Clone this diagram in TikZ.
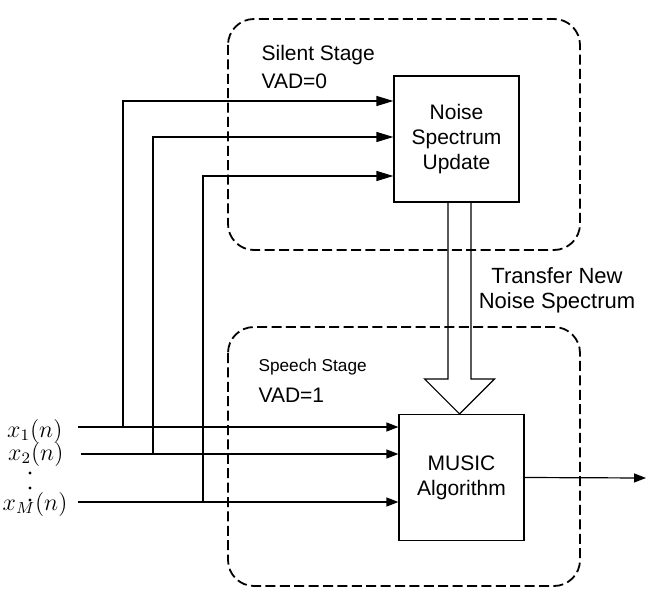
\documentclass[tikz,border=0pt]{standalone}
\usepackage{fontspec}
\setmainfont{Liberation Sans}
\usetikzlibrary{arrows.meta}
\usetikzlibrary{calc}
\usetikzlibrary{positioning}

\begin{document}
\begin{tikzpicture}[x=0.5pt, y=-0.5pt, line width=0.6pt,
    block/.style={rectangle, draw, minimum width=62.5pt, minimum height=63pt, inner sep=0pt, align=center, font=\fontsize{10.5}{12.5}\selectfont},
    stage/.style={draw, dash pattern=on 5pt off 2.2pt, line width=0.9pt, rounded corners=13pt},
    label/.style={anchor=base west, inner sep=0pt, font=\fontsize{10.5}{12.5}\selectfont},
    sig/.style={anchor=base east, inner sep=0pt, font=\fontsize{12}{14}\selectfont},
    big/.style={-{Triangle[length=8.5pt, width=5pt]}},
    small/.style={-{Triangle[length=6pt, width=4.5pt]}}]
    \useasboundingbox (0,0) rectangle (646,588);

    \draw [stage] (228,19) rectangle (580,250);
    \draw [stage] (228,327) rectangle (580,586);

    \node [block] (noise) at (456.5,139) {Noise\\Spectrum\\Update};
    \node [block] (music) at (461.5,477.5) {MUSIC\\Algorithm};

    \node [label] (silent) at (261,61) {Silent Stage};
    \node [label] (vad0) at (261,89) {VAD=0};
    \node [label, font=\fontsize{8.6}{10}\selectfont] (speech) at (258,371) {Speech Stage};
    \node [label] (vad1) at (258,402) {VAD=1};
    \node [align=center, inner sep=0pt, font=\fontsize{11}{12.5}\selectfont] (transfer) at (557,290) {Transfer New\\Noise Spectrum};

    \node [sig] (x1) at (63,437) {$x_1(n)$};
    \node [sig] (x2) at (64,460) {$x_2(n)$};
    \node [sig] (xm) at (68,510) {$x_M(n)$};
    \foreach \y in {473,488,500}
        \fill (30,\y) circle (0.8pt);

    \coordinate (in1) at (78,427);
    \coordinate (in2) at (81,454);
    \coordinate (inm) at (78,502);
    \coordinate (b1) at (123,427);
    \coordinate (b2) at (153,454);
    \coordinate (bm) at (203,502);
    \coordinate (out) at (646,478);

    \draw [small] (in1) -- (in1 -| music.west);
    \draw [small] (in2) -- (in2 -| music.west);
    \draw [small] (inm) -- (inm -| music.west);
    \draw [big] (b1) |- ([yshift=19pt]noise.west);
    \draw [big] (b2) |- ([yshift=1pt]noise.west);
    \draw [big] (bm) |- ([yshift=-18.5pt]noise.west);
    \draw [small] (music.east) -- (out);

    \draw ($(music.north |- noise.south)+(-13.5,0)$) -- ($(music.north)+(-13.5,-35)$) -- ($(music.north)+(-37,-35)$) -- ($(music.north)+(-2,0)$) -- ($(music.north)+(33,-35)$) -- ($(music.north)+(9.5,-35)$) -- ($(music.north |- noise.south)+(9.5,0)$);
\end{tikzpicture}
\end{document}
